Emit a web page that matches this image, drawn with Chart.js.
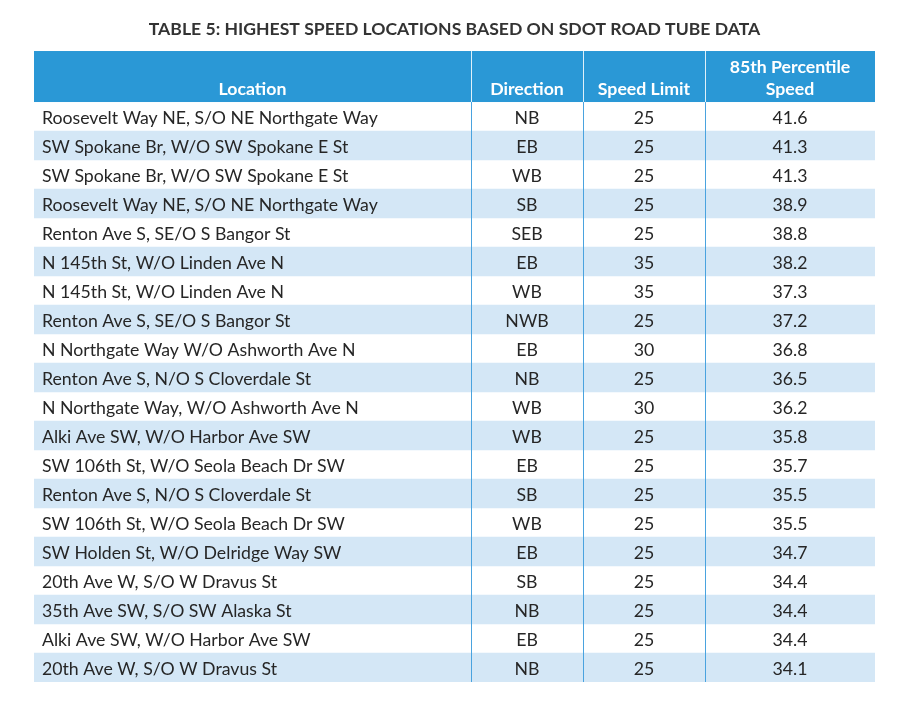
<!DOCTYPE html>
<html>
<head>
<meta charset="utf-8">
<script src="https://cdn.jsdelivr.net/npm/chart.js@4.4.1/dist/chart.umd.min.js"></script>
<style>
  html, body { margin: 0; padding: 0; background: #fff; }
  #wrap { width: 901px; height: 726px; }
</style>
</head>
<body>
<div id="wrap"><canvas id="tableChart"></canvas></div>
<script>
const titleText = 'TABLE 5: HIGHEST SPEED LOCATIONS BASED ON SDOT ROAD TUBE DATA';

const headers = ['Location', 'Direction', 'Speed Limit', ['85th Percentile', 'Speed']];

const locations = [
  'Roosevelt Way NE, S/O NE Northgate Way',
  'SW Spokane Br, W/O SW Spokane E St',
  'SW Spokane Br, W/O SW Spokane E St',
  'Roosevelt Way NE, S/O NE Northgate Way',
  'Renton Ave S, SE/O S Bangor St',
  'N 145th St, W/O Linden Ave N',
  'N 145th St, W/O Linden Ave N',
  'Renton Ave S, SE/O S Bangor St',
  'N Northgate Way W/O Ashworth Ave N',
  'Renton Ave S, N/O S Cloverdale St',
  'N Northgate Way, W/O Ashworth Ave N',
  'Alki Ave SW, W/O Harbor Ave SW',
  'SW 106th St, W/O Seola Beach Dr SW',
  'Renton Ave S, N/O S Cloverdale St',
  'SW 106th St, W/O Seola Beach Dr SW',
  'SW Holden St, W/O Delridge Way SW',
  '20th Ave W, S/O W Dravus St',
  '35th Ave SW, S/O SW Alaska St',
  'Alki Ave SW, W/O Harbor Ave SW',
  '20th Ave W, S/O W Dravus St'
];

const directions = ['NB', 'EB', 'WB', 'SB', 'SEB', 'EB', 'WB', 'NWB', 'EB', 'NB',
                    'WB', 'WB', 'EB', 'SB', 'WB', 'EB', 'SB', 'NB', 'EB', 'NB'];

const speedLimits = [25, 25, 25, 25, 25, 35, 35, 25, 30, 25,
                     30, 25, 25, 25, 25, 25, 25, 25, 25, 25];

const speed85 = [41.6, 41.3, 41.3, 38.9, 38.8, 38.2, 37.3, 37.2, 36.8, 36.5,
                 36.2, 35.8, 35.7, 35.5, 35.5, 34.7, 34.4, 34.4, 34.4, 34.1];

// column edges in table units (x scale), header height in px
const colEdges = [0, 437, 549, 671, 841];
const headerHeight = 51;

const BLUE = '#2a98d6';
const STRIPE = '#d4e7f6';
const LINE = '#4aa3df';
const TEXT = '#262626';
const FONT = 'Lato';

const tablePlugin = {
  id: 'tableCells',
  afterDatasetsDraw(chart) {
    const { ctx, chartArea, scales: { x, y } } = chart;
    const left = x.getPixelForValue(colEdges[0]);
    const right = x.getPixelForValue(colEdges[colEdges.length - 1]);
    const top = chartArea.top - headerHeight;
    const bottom = chartArea.bottom;

    ctx.save();
    // header band
    ctx.fillStyle = BLUE;
    ctx.fillRect(left, top, right - left, headerHeight);

    // column dividers
    ctx.lineWidth = 1;
    for (let i = 1; i < colEdges.length - 1; i++) {
      const px = Math.round(x.getPixelForValue(colEdges[i])) + 0.5;
      ctx.strokeStyle = 'rgba(255,255,255,0.85)';
      ctx.beginPath();
      ctx.moveTo(px, top);
      ctx.lineTo(px, chartArea.top);
      ctx.stroke();
      ctx.strokeStyle = LINE;
      ctx.beginPath();
      ctx.moveTo(px, chartArea.top);
      ctx.lineTo(px, bottom);
      ctx.stroke();
    }

    // header text
    ctx.fillStyle = '#fff';
    ctx.font = 'bold 17.7px ' + FONT;
    ctx.textAlign = 'center';
    ctx.textBaseline = 'middle';
    headers.forEach((h, c) => {
      const cx = (x.getPixelForValue(colEdges[c]) + x.getPixelForValue(colEdges[c + 1])) / 2;
      const lines = Array.isArray(h) ? h : [h];
      lines.forEach((t, k) => {
        const cy = chartArea.top - 13 - (lines.length - 1 - k) * 22;
        ctx.fillText(t, cx, cy);
      });
    });

    // body text
    ctx.fillStyle = TEXT;
    ctx.font = '17.7px ' + FONT;
    const cols = [locations, directions, speedLimits, speed85.map(v => v.toFixed(1))];
    locations.forEach((_, r) => {
      const cy = y.getPixelForValue(r) + 1.5;
      cols.forEach((col, c) => {
        const x0 = x.getPixelForValue(colEdges[c]);
        const x1 = x.getPixelForValue(colEdges[c + 1]);
        if (c === 0) {
          ctx.textAlign = 'left';
          ctx.fillText(String(col[r]), x0 + 8, cy);
        } else {
          ctx.textAlign = 'center';
          ctx.fillText(String(col[r]), (x0 + x1) / 2, cy);
        }
      });
    });
    ctx.restore();
  }
};

new Chart(document.getElementById('tableChart').getContext('2d'), {
  type: 'bar',
  data: {
    labels: locations,
    datasets: [{
      label: 'stripes',
      data: locations.map((_, i) => i % 2 ? [colEdges[0], colEdges[colEdges.length - 1]] : null),
      backgroundColor: STRIPE,
      borderWidth: 0,
      barPercentage: 1,
      categoryPercentage: 1
    }]
  },
  options: {
    indexAxis: 'y',
    responsive: true,
    maintainAspectRatio: false,
    animation: false,
    layout: { padding: { top: 0, left: 34, right: 26, bottom: 44 } },
    scales: {
      x: { type: 'linear', min: colEdges[0], max: colEdges[colEdges.length - 1], display: false },
      y: { type: 'category', display: false }
    },
    plugins: {
      legend: { display: false },
      tooltip: { enabled: false },
      title: {
        display: true,
        text: titleText,
        color: '#333',
        font: { family: FONT, size: 17.6, weight: 'bold', lineHeight: 1.2 },
        padding: { top: 19, bottom: 61.9 }
      }
    }
  },
  plugins: [tablePlugin]
});
</script>
</body>
</html>
